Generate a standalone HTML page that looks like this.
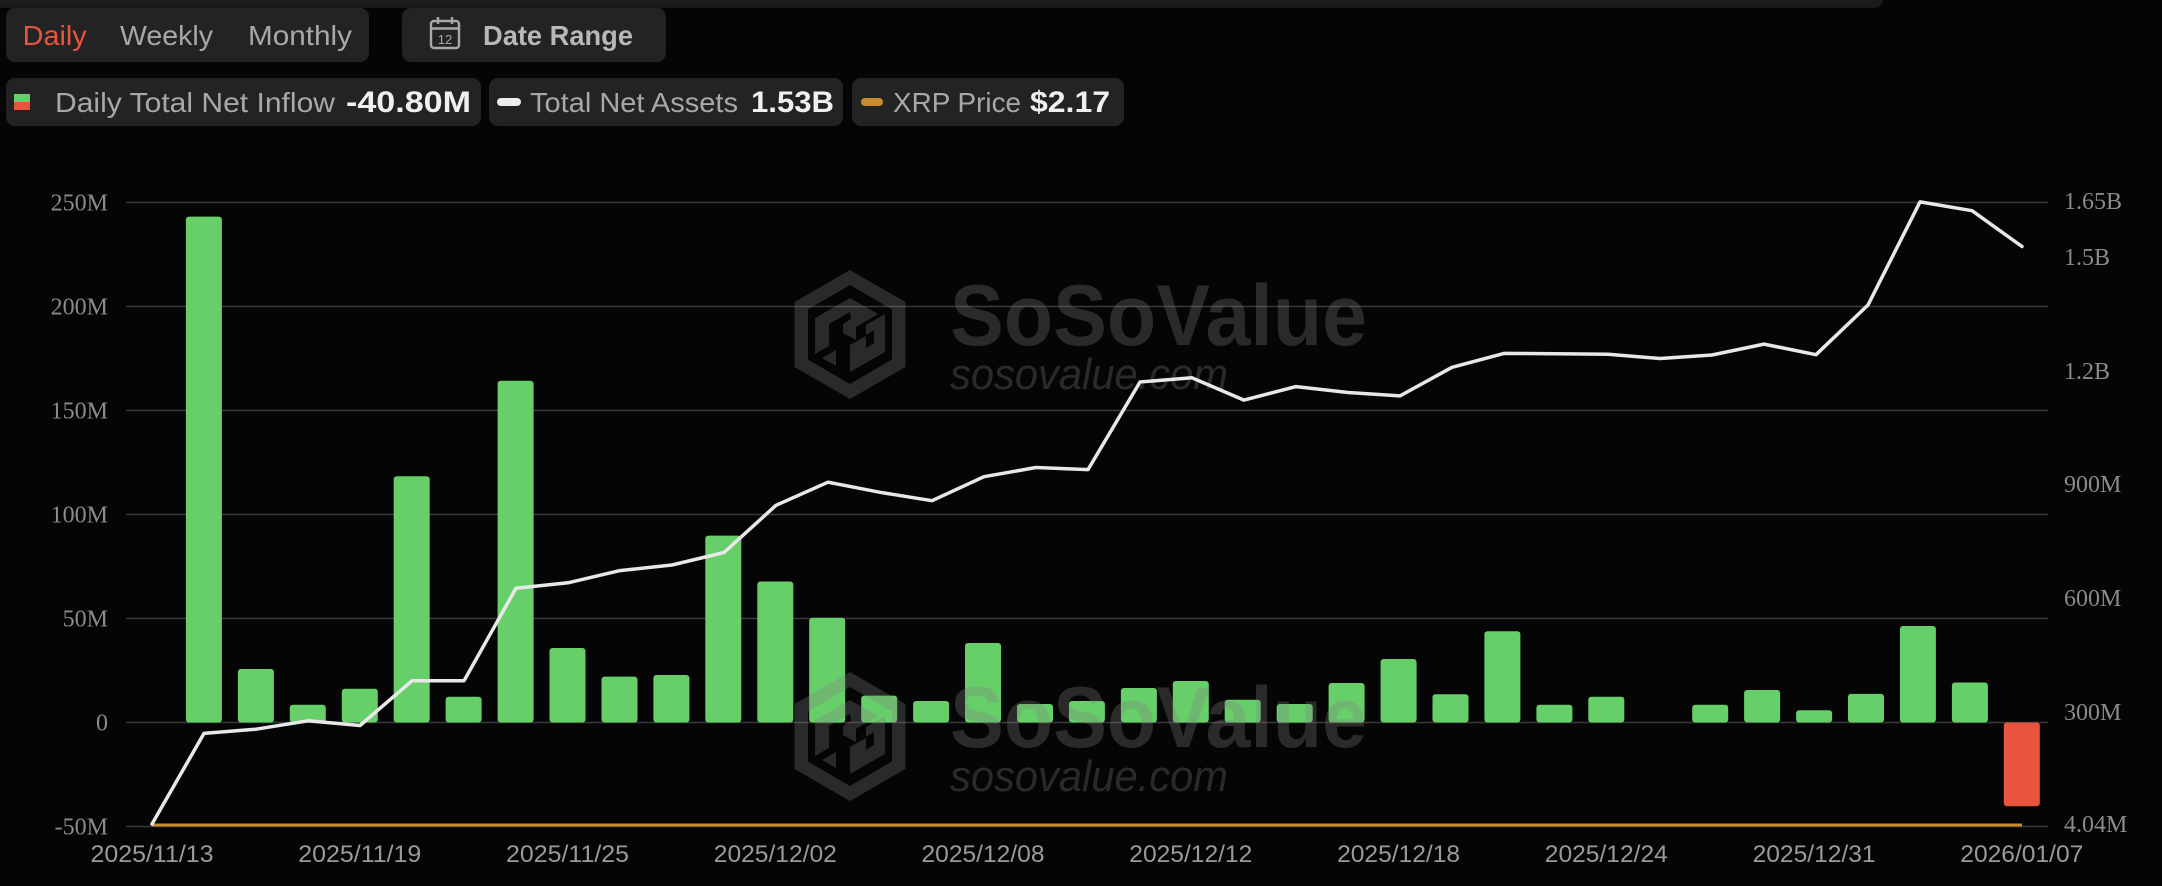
<!DOCTYPE html>
<html>
<head>
<meta charset="utf-8">
<style>
html,body{margin:0;padding:0;background:#050505;}
svg{display:block;}
</style>
</head>
<body>
<svg width="2162" height="886" viewBox="0 0 2162 886" xmlns="http://www.w3.org/2000/svg">
  <rect x="0" y="0" width="2162" height="886" fill="#050505"/>
  <!-- top band -->
  <rect x="-10" y="-12" width="1893" height="19.7" rx="8" fill="#1b1b1b"/>

  <!-- buttons -->
  <rect x="6" y="8" width="363" height="54" rx="9" fill="#232323"/>
  <rect x="402" y="8" width="264" height="54" rx="9" fill="#232323"/>
  <g font-family="Liberation Sans, sans-serif" font-size="28">
    <text x="22.7" y="45" fill="#e8553e" textLength="64" lengthAdjust="spacingAndGlyphs">Daily</text>
    <text x="120" y="45" fill="#a8a8a8" textLength="93" lengthAdjust="spacingAndGlyphs">Weekly</text>
    <text x="248" y="45" fill="#a8a8a8" textLength="104" lengthAdjust="spacingAndGlyphs">Monthly</text>
    <text x="483" y="45" fill="#b8b8b8" font-weight="bold" textLength="150" lengthAdjust="spacingAndGlyphs">Date Range</text>
  </g>
  <!-- calendar icon -->
  <g stroke="#a8a8a8" stroke-width="2.4" fill="none">
    <rect x="431" y="21" width="28" height="27" rx="3"/>
    <line x1="431" y1="28.5" x2="459" y2="28.5"/>
    <line x1="438" y1="17" x2="438" y2="24"/>
    <line x1="452" y1="17" x2="452" y2="24"/>
  </g>
  <text x="445" y="44" font-family="Liberation Sans, sans-serif" font-size="13" fill="#a8a8a8" text-anchor="middle">12</text>

  <!-- legend pills -->
  <rect x="6" y="78" width="475" height="48" rx="9" fill="#232323"/>
  <rect x="489" y="78" width="354" height="48" rx="9" fill="#232323"/>
  <rect x="852" y="78" width="272" height="48" rx="9" fill="#232323"/>
  <rect x="14" y="94" width="16" height="8" fill="#67cf6a"/>
  <rect x="14" y="102" width="16" height="8" fill="#e8553e"/>
  <rect x="497" y="98" width="24" height="8" rx="4" fill="#eeeeee"/>
  <rect x="861" y="98" width="22" height="8" rx="4" fill="#c98b2c"/>
  <g font-family="Liberation Sans, sans-serif">
    <text x="55" y="112" font-size="28" fill="#a8a8a8" textLength="280" lengthAdjust="spacingAndGlyphs">Daily Total Net Inflow</text>
    <text x="346" y="112" font-size="30" font-weight="bold" fill="#f0f0f0" textLength="125" lengthAdjust="spacingAndGlyphs">-40.80M</text>
    <text x="530" y="112" font-size="28" fill="#a8a8a8" textLength="208" lengthAdjust="spacingAndGlyphs">Total Net Assets</text>
    <text x="751" y="112" font-size="30" font-weight="bold" fill="#f0f0f0" textLength="83" lengthAdjust="spacingAndGlyphs">1.53B</text>
    <text x="893" y="112" font-size="28" fill="#a8a8a8" textLength="128" lengthAdjust="spacingAndGlyphs">XRP Price</text>
    <text x="1030" y="112" font-size="30" font-weight="bold" fill="#f0f0f0" textLength="80" lengthAdjust="spacingAndGlyphs">$2.17</text>
  </g>

  <!-- gridlines -->
  <g stroke="#3a3a3a" stroke-width="1.6">
    <line x1="126" y1="202.5" x2="2048" y2="202.5"/>
    <line x1="126" y1="306.5" x2="2048" y2="306.5"/>
    <line x1="126" y1="410.5" x2="2048" y2="410.5"/>
    <line x1="126" y1="514.5" x2="2048" y2="514.5"/>
    <line x1="126" y1="618.5" x2="2048" y2="618.5"/>
    <line x1="126" y1="722.5" x2="2048" y2="722.5"/>
    <line x1="126" y1="826.5" x2="2048" y2="826.5"/>
  </g>

  <!-- left axis labels -->
  <g font-family="Liberation Serif, serif" font-size="24" fill="#8a8a8a" text-anchor="end">
    <text x="108" y="210.5">250M</text>
    <text x="108" y="314.5">200M</text>
    <text x="108" y="418.5">150M</text>
    <text x="108" y="522.5">100M</text>
    <text x="108" y="626.5">50M</text>
    <text x="108" y="730.5">0</text>
    <text x="108" y="834.5">-50M</text>
  </g>
  <!-- right axis labels -->
  <g font-family="Liberation Serif, serif" font-size="24" fill="#8a8a8a">
    <text x="2064" y="209">1.65B</text>
    <text x="2064" y="265">1.5B</text>
    <text x="2064" y="379">1.2B</text>
    <text x="2064" y="492">900M</text>
    <text x="2064" y="606">600M</text>
    <text x="2064" y="720">300M</text>
    <text x="2064" y="832">4.04M</text>
  </g>
  <!-- x axis labels -->
  <g font-family="Liberation Sans, sans-serif" font-size="24" fill="#9a9a9a" text-anchor="middle">
    <text x="152" y="862" textLength="123" lengthAdjust="spacingAndGlyphs">2025/11/13</text>
    <text x="359.8" y="862" textLength="123" lengthAdjust="spacingAndGlyphs">2025/11/19</text>
    <text x="567.5" y="862" textLength="123" lengthAdjust="spacingAndGlyphs">2025/11/25</text>
    <text x="775.3" y="862" textLength="123" lengthAdjust="spacingAndGlyphs">2025/12/02</text>
    <text x="983" y="862" textLength="123" lengthAdjust="spacingAndGlyphs">2025/12/08</text>
    <text x="1190.8" y="862" textLength="123" lengthAdjust="spacingAndGlyphs">2025/12/12</text>
    <text x="1398.6" y="862" textLength="123" lengthAdjust="spacingAndGlyphs">2025/12/18</text>
    <text x="1606.3" y="862" textLength="123" lengthAdjust="spacingAndGlyphs">2025/12/24</text>
    <text x="1814.1" y="862" textLength="123" lengthAdjust="spacingAndGlyphs">2025/12/31</text>
    <text x="2021.8" y="862" textLength="123" lengthAdjust="spacingAndGlyphs">2026/01/07</text>
  </g>

  <!-- bars -->
  <g fill="#67cf6a">
    <rect x="185.9" y="216.6" width="36" height="505.9" rx="3"/>
    <rect x="237.9" y="669" width="36" height="53.5" rx="3"/>
    <rect x="289.8" y="704.8" width="36" height="17.7" rx="3"/>
    <rect x="341.8" y="688.8" width="36" height="33.7" rx="3"/>
    <rect x="393.7" y="476.3" width="36" height="246.2" rx="3"/>
    <rect x="445.6" y="696.8" width="36" height="25.7" rx="3"/>
    <rect x="497.6" y="380.8" width="36" height="341.7" rx="3"/>
    <rect x="549.5" y="648" width="36" height="74.5" rx="3"/>
    <rect x="601.5" y="676.6" width="36" height="45.9" rx="3"/>
    <rect x="653.4" y="675" width="36" height="47.5" rx="3"/>
    <rect x="705.3" y="535.6" width="36" height="186.9" rx="3"/>
    <rect x="757.3" y="581.5" width="36" height="141" rx="3"/>
    <rect x="809.2" y="617.7" width="36" height="104.8" rx="3"/>
    <rect x="861.2" y="695.6" width="36" height="26.9" rx="3"/>
    <rect x="913.1" y="701" width="36" height="21.5" rx="3"/>
    <rect x="965" y="643" width="36" height="79.5" rx="3"/>
    <rect x="1017" y="704" width="36" height="18.5" rx="3"/>
    <rect x="1068.9" y="701" width="36" height="21.5" rx="3"/>
    <rect x="1120.9" y="688" width="36" height="34.5" rx="3"/>
    <rect x="1172.8" y="681" width="36" height="41.5" rx="3"/>
    <rect x="1224.7" y="699.8" width="36" height="22.7" rx="3"/>
    <rect x="1276.7" y="704" width="36" height="18.5" rx="3"/>
    <rect x="1328.6" y="683" width="36" height="39.5" rx="3"/>
    <rect x="1380.6" y="659" width="36" height="63.5" rx="3"/>
    <rect x="1432.5" y="694.3" width="36" height="28.2" rx="3"/>
    <rect x="1484.4" y="631.2" width="36" height="91.3" rx="3"/>
    <rect x="1536.4" y="704.8" width="36" height="17.7" rx="3"/>
    <rect x="1588.3" y="696.8" width="36" height="25.7" rx="3"/>
    <rect x="1692.2" y="704.8" width="36" height="17.7" rx="3"/>
    <rect x="1744.1" y="690" width="36" height="32.5" rx="3"/>
    <rect x="1796.1" y="710.3" width="36" height="12.2" rx="3"/>
    <rect x="1848" y="693.9" width="36" height="28.6" rx="3"/>
    <rect x="1899.9" y="626" width="36" height="96.5" rx="3"/>
    <rect x="1951.9" y="682.5" width="36" height="40" rx="3"/>
  </g>
  <rect x="2003.8" y="722.5" width="36" height="83.8" rx="3" fill="#e8553e"/>

  <!-- watermarks -->
  <g fill="rgba(128,128,128,0.3)">
    <g id="wm1">
      <path fill-rule="evenodd" d="M850 270 L905.5 302 L905.5 367 L850 399 L794.5 367 L794.5 302 Z M850 285 L892 309.5 L892 359.5 L850 384 L808 359.5 L808 309.5 Z"/>
      <path d="M815 318 L850 298 L878 314 L856 327 L856 340 L843 333 L843 324 L851 319 L850 312 L829 324 L829 346 L815 354 Z"/>
      <path d="M850 345 L866 336 L866 325 L885 314 L885 352 L850 372 Z M866 348 L874 343 L874 330 L866 335 Z"/>
      <path d="M822 358 L836 350 L836 366 L822 358 Z"/>
      <text x="950" y="345" font-family="Liberation Sans, sans-serif" font-weight="bold" font-size="86" textLength="417" lengthAdjust="spacingAndGlyphs">SoSoValue</text>
      <text x="950" y="389" font-family="Liberation Sans, sans-serif" font-style="italic" font-size="44" textLength="278" lengthAdjust="spacingAndGlyphs">sosovalue.com</text>
    </g>
    <g transform="translate(0,402)">
      <path fill-rule="evenodd" d="M850 270 L905.5 302 L905.5 367 L850 399 L794.5 367 L794.5 302 Z M850 285 L892 309.5 L892 359.5 L850 384 L808 359.5 L808 309.5 Z"/>
      <path d="M815 318 L850 298 L878 314 L856 327 L856 340 L843 333 L843 324 L851 319 L850 312 L829 324 L829 346 L815 354 Z"/>
      <path d="M850 345 L866 336 L866 325 L885 314 L885 352 L850 372 Z M866 348 L874 343 L874 330 L866 335 Z"/>
      <path d="M822 358 L836 350 L836 366 L822 358 Z"/>
      <text x="950" y="345" font-family="Liberation Sans, sans-serif" font-weight="bold" font-size="86" textLength="417" lengthAdjust="spacingAndGlyphs">SoSoValue</text>
      <text x="950" y="389" font-family="Liberation Sans, sans-serif" font-style="italic" font-size="44" textLength="278" lengthAdjust="spacingAndGlyphs">sosovalue.com</text>
    </g>
  </g>

  <!-- XRP price line -->
  <line x1="152" y1="825" x2="2022" y2="825" stroke="#c98b2c" stroke-width="3"/>

  <!-- total net assets line -->
  <polyline fill="none" stroke="#e8e8e8" stroke-width="3.5" stroke-linejoin="round" stroke-linecap="round"
    points="152,824 204,733.4 256,729.2 308,720.8 360,725.5 412,680.8 464,680.8 516,588.2 568,582.8 620,570.6 672,565 724,552.5 776,505.3 828,482.2 880,492.3 932,500.7 984,476.7 1036,467.5 1088,469.6 1140,382 1192,377.8 1244,400.1 1296,386.6 1348,392.5 1400,395.9 1452,367.3 1504,353.4 1556,353.8 1608,354.2 1660,358.5 1712,355 1764,344.1 1816,354.7 1868,305 1920,201.9 1972,210.7 2022,246.5"/>
</svg>
</body>
</html>
